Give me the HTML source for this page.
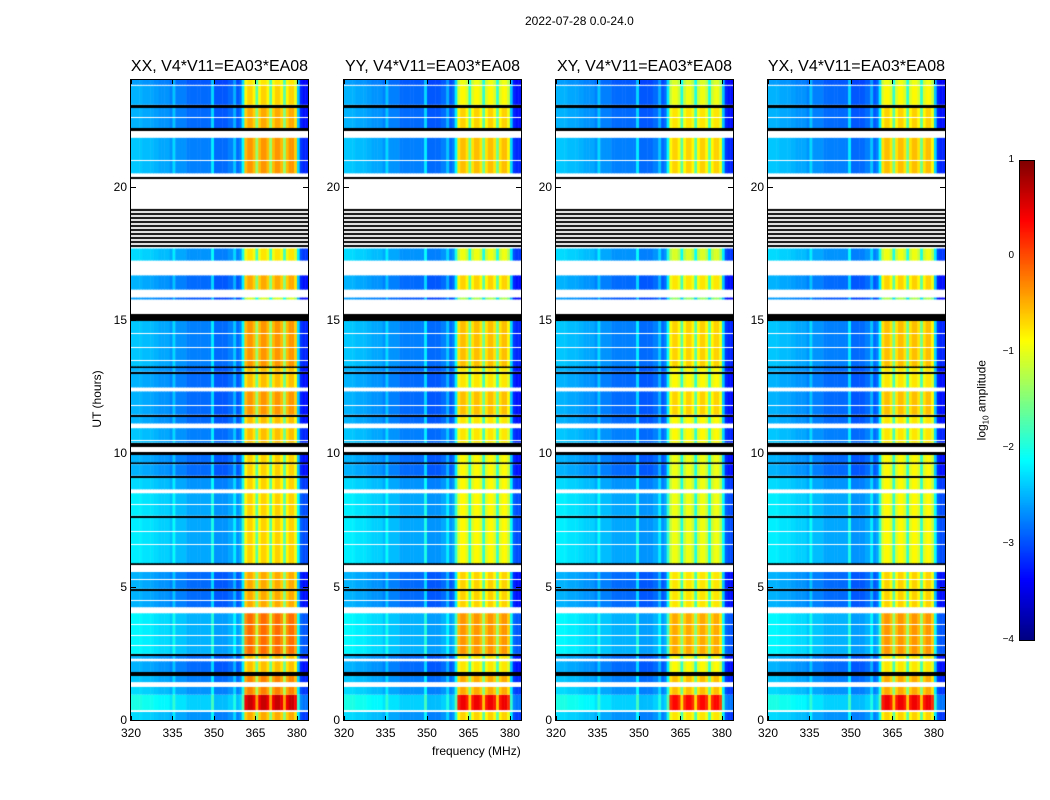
<!DOCTYPE html>
<html><head><meta charset="utf-8"><style>
body{margin:0;background:#fff;width:1050px;height:800px;position:relative;overflow:hidden;font-family:"Liberation Sans",sans-serif}
.abs{position:absolute}
.frame{position:absolute;border:1px solid #000;box-sizing:border-box;pointer-events:none}
.t{position:absolute;font-size:12px;color:#000;white-space:nowrap}
.ttl{position:absolute;font-size:16px;white-space:nowrap;transform:translateX(-50%)}
.tick{position:absolute;background:#000}
</style></head><body>
<div class="t" style="left:525px;top:14px;font-size:12px">2022-07-28 0.0-24.0</div>
<div class="t" style="left:432px;top:744px;font-size:12px">frequency (MHz)</div>
<div class="t" style="left:62px;top:392px;transform:rotate(-90deg);transform-origin:center;width:70px;text-align:center">UT (hours)</div>
<div id="root"></div>
<canvas id="cbar" class="abs" width="15" height="480" style="left:1019px;top:160px"></canvas>
<div class="frame" style="left:1019px;top:160px;width:16px;height:481px"></div>
<div class="t" style="left:935px;top:392px;transform:rotate(-90deg);width:95px;text-align:center">log<sub style="font-size:8px">10</sub> amplitude</div>
<script>
// ---- data ----
const freqStart = 320, freqStep = 1;
const freqVals = [-2.3,-2.3,-2.3,-2.3,-2.35,-2.35,-2.35,-2.35,-2.4,-2.4,
 -2.45,-2.45,-2.45,-2.45,-2.55,-2.2,-2.55,-2.55,-2.55,-2.55,
 -2.65,-2.65,-2.65,-2.65,-2.65,-2.65,-2.65,-2.65,-2.65,-2.1,
 -2.75,-2.75,-2.75,-2.75,-2.75,-2.65,-2.65,-2.3,-2.75,-2.65,
 -2.0,-0.45,-0.25,-0.25,-0.45,-1.3,-0.45,-0.25,-0.25,-0.45,-1.3,-0.45,-0.25,-0.25,-0.45,-1.3,-0.45,-0.25,-0.25,-0.55,-2.2,-3.0,-3.1,-3.1];
const segStart = [0,0.3,0.37,0.95,1.24,1.42,1.65,1.8,2.2,2.3,2.43,2.48,4.0,4.23,4.85,4.92,5.55,5.8,5.88,7.6,7.66,8.5,8.65,9.1,9.16,9.59,9.66,9.95,10.05,10.25,10.4,10.94,11.12,11.4,11.45,12.32,12.47,13.0,13.06,13.2,13.26,14.98,15.24,15.77,15.84,16.14,16.67,17.23,17.68,19.18,20.3,20.36,20.5,21.83,22.1,22.2,22.96,23.07,23.78,23.82];
const segEnd   = [0.3,0.37,0.95,1.24,1.42,1.65,1.8,2.2,2.3,2.43,2.48,4.0,4.23,4.85,4.92,5.55,5.8,5.88,7.6,7.66,8.5,8.65,9.1,9.16,9.59,9.66,9.95,10.05,10.25,10.4,10.94,11.12,11.4,11.45,12.32,12.47,13.0,13.06,13.2,13.26,14.98,15.24,15.77,15.84,16.14,16.67,17.23,17.68,19.18,20.3,20.36,20.5,21.83,22.1,22.2,22.96,23.07,23.78,23.82,24];
const segType  = ['d','w','d','d','w','d','k','d','w','d','k','d','w','d','k','d','w','k','d','k','d','w','d','k','d','k','d','k','w','k','d','w','d','k','d','w','d','k','d','k','d','k','w','d','w','d','w','d','s','w','k','w','d','w','k','d','k','d','w','d'];
const segBg    = [0,0,0.3,0,0,-0.1,0,-0.2,0,-0.2,0,0.15,0,-0.2,0,-0.2,0,0,0.1,0,0.1,0,0,0,-0.2,0,-0.2,0,0,0,-0.1,0,-0.2,0,-0.2,0,-0.2,0,-0.2,0,-0.1,0,0,-0.3,0,-0.2,0,0,0,0,0,0,-0.1,0,0,-0.2,0,-0.2,0,-0.3];
const segBright= [-0.2,0,0.9,0,0,0,0,-0.3,0,-0.3,0,0.1,0,-0.2,0,-0.2,0,0,-0.4,0,-0.4,0,-0.4,0,-0.4,0,-0.4,0,0,0,-0.3,0,-0.3,0,-0.1,0,-0.3,0,-0.3,0,-0.1,0,0,-0.8,0,-0.2,0,-0.5,0,0,0,0,-0.1,0,0,-0.2,0,-0.4,0,-0.5];
const whiteLines = [2.8,3.2,3.6,4.5,5.3,6.6,7.1,8.1,10.5,11.8,13.5,14.0,14.5,21.0,22.6];
const panelNames = ['XX','YY','XY','YX'];
const panelGain = [0,-0.2,-0.3,-0.2];
const xTicks = [320,335,350,365,380];
const yTicks = [0,5,10,15,20];
const cbarTicks = [1,0,-1,-2,-3,-4];
// ---- layout ----
const panelLeft=[131,344,556,768], PW=177, PT=80, PH=640, FMAX=384;
function jet(v){let t=Math.max(0,Math.min(1,(v+4)/5));const c=x=>Math.round(255*Math.max(0,Math.min(1,x)));return `rgb(${c(1.5-Math.abs(4*t-3))},${c(1.5-Math.abs(4*t-2))},${c(1.5-Math.abs(4*t-1))})`;}
const xs=f=>(f-freqStart)/(FMAX-freqStart)*PW;
const ys=h=>PH-h/24*PH;
const root=document.getElementById('root');
function add(tag,cls,style,name,txt){const e=document.createElement(tag);if(cls)e.className=cls;e.style.cssText=style;if(txt!==undefined)e.textContent=txt;


root.appendChild(e);return e;}
panelNames.forEach((pn,p)=>{
 const L=panelLeft[p];
 const cv=add('canvas','abs',`left:${L}px;top:${PT}px`,'heatmap-'+pn.toLowerCase());
 cv.width=PW;cv.height=PH;const g=cv.getContext('2d');
 g.fillStyle='#fff';g.fillRect(0,0,PW,PH);
 for(let s=0;s<segStart.length;s++){
  const y0=ys(segEnd[s]),y1=ys(segStart[s]);const ty=segType[s];
  if(ty==='w')continue;
  if(ty==='k'){g.fillStyle='#000';g.fillRect(0,Math.round(y0),PW,Math.max(2,Math.round(y1-y0)));continue;}
  if(ty==='s'){for(let y=Math.round(y0);y<y1;y+=4){g.fillStyle='#000';g.fillRect(0,y,PW,2);}continue;}
  for(let i=0;i<freqVals.length;i++){
   const f=freqStart+i*freqStep;const bright=freqVals[i]>-1.5;
   const v=freqVals[i]+(bright?segBright[s]+panelGain[p]:segBg[s]);
   g.fillStyle=jet(v);const xa=xs(f),xb=xs(f+freqStep);g.fillRect(xa,y0,xb-xa+0.5,y1-y0);
  }
 }
 g.fillStyle='#fff';whiteLines.forEach(h=>g.fillRect(0,Math.round(ys(h)),PW,1));
 add('div','frame',`left:${L-1}px;top:${PT-1}px;width:${PW+2}px;height:${PH+2}px`,'panel-frame-'+pn.toLowerCase());
 add('div','ttl',`left:${L+PW/2}px;top:${58}px`,'panel-title-'+pn.toLowerCase(),pn+', V4*V11=EA03*EA08');
 xTicks.forEach(f=>{const x=L+xs(f);
  add('div','tick',`left:${x}px;top:${PT+PH-4}px;width:1px;height:4px`,'x-tick');
  add('div','tick',`left:${x}px;top:${PT}px;width:1px;height:4px`,'x-tick');
  add('div','t',`left:${x-12}px;top:${PT+PH+6}px;width:24px;text-align:center`,'x-tick-label',String(f));});
 yTicks.forEach(h=>{const y=PT+ys(h);
  add('div','tick',`left:${L}px;top:${y}px;width:5px;height:1px`,'y-tick');
  add('div','tick',`left:${L+PW-5}px;top:${y}px;width:5px;height:1px`,'y-tick');
  add('div','t',`left:${L-30}px;top:${y-7}px;width:26px;text-align:right`,'y-tick-label',String(h));});
});
const cb=document.getElementById('cbar').getContext('2d');
for(let y=0;y<480;y++){cb.fillStyle=jet(1-y/480*5);cb.fillRect(0,y,15,1);}
cbarTicks.forEach(v=>{const y=160+(1-v)/5*480;
 add('div','tick',`left:1030px;top:${y}px;width:4px;height:1px`,'colorbar-tick');
 add('div','t',`left:990px;top:${y-6}px;width:24px;text-align:right;font-size:10px`,'colorbar-tick-label',v<0?'\u2212'+(-v):String(v));});
</script>
</body></html>
